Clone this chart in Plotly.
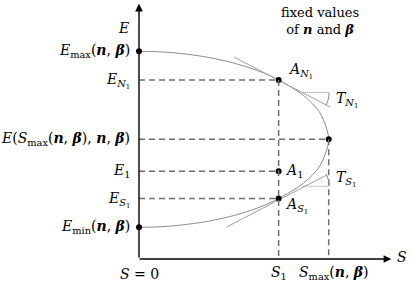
import plotly.graph_objects as go

# ---- values (S: S_max = 1, E: centre 0, half-range 1) ----
S_1 = 0.736
S_MAX = 1.0
E_MAX = 1.0
E_N1 = 0.674
E_MID = 0.0
E_1 = -0.364
E_S1 = -0.674
E_MIN = -1.0

# curve E(S) for fixed n, beta
curve_S = [0.0, 0.10, 0.199, 0.341, 0.493, 0.638, 0.736, 0.866, 0.954, 1.0,
           0.954, 0.866, 0.736, 0.638, 0.493, 0.341, 0.199, 0.10, 0.0]
curve_E = [1.0, 0.995, 0.98, 0.94, 0.87, 0.77, 0.674, 0.5, 0.3, 0.0,
           -0.3, -0.5, -0.674, -0.77, -0.87, -0.94, -0.98, -0.995, -1.0]

# tangent lines at A_N1 and A_S1
tanN_S = [0.501, 1.007]
tanN_E = [0.935, 0.367]
tanS_S = [0.462, 0.986]
tanS_E = [-0.997, -0.409]

# angle markers (dotted horizontal + arc)
angN_S = [0.863, 1.0026]
angN_E = [0.532, 0.532]
angS_S = [0.863, 1.0026]
angS_E = [-0.533, -0.533]

# axes extents
AXIS_E = -1.36
AXIS_S_END = 1.33
AXIS_E_END = 1.54

FONT = "DejaVu Serif, Liberation Serif, serif"
nb = "(<b><i>n</i></b>, <b><i>β</i></b>)"

fig = go.Figure()

# curve
fig.add_trace(go.Scatter(x=curve_S, y=curve_E, mode="lines",
                         line=dict(color="#8a8a8a", width=1, shape="spline", smoothing=0.8),
                         hoverinfo="skip"))
# tangents
for xs, ys in [(tanN_S, tanN_E), (tanS_S, tanS_E)]:
    fig.add_trace(go.Scatter(x=xs, y=ys, mode="lines",
                             line=dict(color="#a0a0a0", width=1), hoverinfo="skip"))
# dotted horizontals
for xs, ys in [(angN_S, angN_E), (angS_S, angS_E)]:
    fig.add_trace(go.Scatter(x=xs, y=ys, mode="lines",
                             line=dict(color="#8a8a8a", width=1, dash="1px,1px"), hoverinfo="skip"))

# dashed helper lines
dash_col = "#6e6e6e"
dash_style = "6px,4px"
h_lines = [(E_N1, S_1), (E_MID, S_MAX), (E_1, S_1), (E_S1, S_1)]
for e, s in h_lines:
    fig.add_shape(type="line", x0=0, x1=s, y0=e, y1=e,
                  line=dict(color=dash_col, width=1.5, dash=dash_style))
fig.add_shape(type="line", x0=S_1, x1=S_1, y0=E_N1, y1=AXIS_E,
              line=dict(color=dash_col, width=1.5, dash=dash_style))
fig.add_shape(type="line", x0=S_MAX, x1=S_MAX, y0=E_MID, y1=AXIS_E,
              line=dict(color=dash_col, width=1.5, dash=dash_style))

# arcs of the angle markers
fig.add_shape(type="path", path=f"M {angN_S[1]},{angN_E[1]} Q 1.0026,0.457 0.987,0.39",
              line=dict(color="#8a8a8a", width=1))
fig.add_shape(type="path", path=f"M {angS_S[1]},{angS_E[1]} Q 1.0026,-0.459 0.987,-0.393",
              line=dict(color="#8a8a8a", width=1))

# points
pts_S = [0, S_1, S_MAX, S_1, S_1, 0]
pts_E = [E_MAX, E_N1, E_MID, E_1, E_S1, E_MIN]
fig.add_trace(go.Scatter(x=pts_S, y=pts_E, mode="markers",
                         marker=dict(color="black", size=6), hoverinfo="skip"))

# axes with arrows
fig.add_annotation(x=0, y=AXIS_E_END, ax=0, ay=AXIS_E, xref="x", yref="y", axref="x", ayref="y",
                   text="", showarrow=True, arrowhead=2, arrowsize=1.1, arrowwidth=1.4,
                   arrowcolor="black", standoff=0, startstandoff=0)
fig.add_annotation(x=AXIS_S_END, y=AXIS_E, ax=-0.005, ay=AXIS_E, xref="x", yref="y", axref="x", ayref="y",
                   text="", showarrow=True, arrowhead=2, arrowsize=1.1, arrowwidth=1.4,
                   arrowcolor="black", standoff=0, startstandoff=0)

def lab(x, y, text, xanchor="center", yanchor="middle", xshift=0, yshift=0, size=14):
    fig.add_annotation(x=x, y=y, text=text, showarrow=False, xanchor=xanchor, yanchor=yanchor,
                       xshift=xshift, yshift=yshift, font=dict(family=FONT, size=size, color="black"))

SUB_N1 = "<sub><i>N</i><sub>1</sub></sub>"
SUB_S1 = "<sub><i>S</i><sub>1</sub></sub>"

# left labels
lab(0, 1.26, "<i>E</i>", xanchor="right", xshift=-8)
lab(0, E_MAX, "<i>E</i><sub>max</sub>" + nb, xanchor="right", xshift=-7)
lab(0, E_N1, "<i>E</i>" + SUB_N1, xanchor="right", xshift=-7, yshift=-1)
lab(0, E_MID, "<i>E</i>(<i>S</i><sub>max</sub>" + nb + ", <b><i>n</i></b>, <b><i>β</i></b>)",
    xanchor="right", xshift=-7)
lab(0, E_1, "<i>E</i><sub>1</sub>", xanchor="right", xshift=-7)
lab(0, E_S1, "<i>E</i>" + SUB_S1, xanchor="right", xshift=-7, yshift=-1)
lab(0, E_MIN, "<i>E</i><sub>min</sub>" + nb, xanchor="right", xshift=-7)

# bottom labels
lab(0, AXIS_E, "<i>S</i> = 0", yanchor="top", yshift=-5)
lab(S_1, AXIS_E, "<i>S</i><sub>1</sub>", yanchor="top", yshift=-3)
lab(S_MAX, AXIS_E, "<i>S</i><sub>max</sub>" + nb, yanchor="top", yshift=-3, xshift=5)
lab(AXIS_S_END, AXIS_E, "<i>S</i>", xanchor="left", xshift=4, yshift=2)

# point labels
lab(S_1, E_N1, "<i>A</i>" + SUB_N1, xanchor="left", xshift=7, yshift=9)
lab(S_1, E_1, "<i>A</i><sub>1</sub>", xanchor="left", xshift=4, yshift=0)
lab(S_1, E_S1, "<i>A</i>" + SUB_S1, xanchor="left", xshift=4, yshift=-7)
lab(S_MAX, E_N1, "<i>T</i>" + SUB_N1, xanchor="left", xshift=5, yshift=-20)
lab(S_MAX, E_1, "<i>T</i>" + SUB_S1, xanchor="left", xshift=5, yshift=-8)

# note
fig.add_annotation(x=0.955, y=1.34, text="fixed values<br>of <b><i>n</i></b> and <b><i>β</i></b>",
                   showarrow=False, xanchor="center", yanchor="middle", align="center",
                   font=dict(family=FONT, size=13, color="black"))

fig.update_layout(
    width=412, height=284,
    margin=dict(l=0, r=0, t=0, b=0),
    paper_bgcolor="white", plot_bgcolor="white",
    showlegend=False,
    xaxis=dict(range=[-0.7327, 1.4391], visible=False, fixedrange=True),
    yaxis=dict(range=[-1.6443, 1.5830], visible=False, fixedrange=True),
)

fig.write_html("out.html", config={"displayModeBar": False},
               post_script="document.body.style.margin='0px';document.body.style.padding='0px';")
